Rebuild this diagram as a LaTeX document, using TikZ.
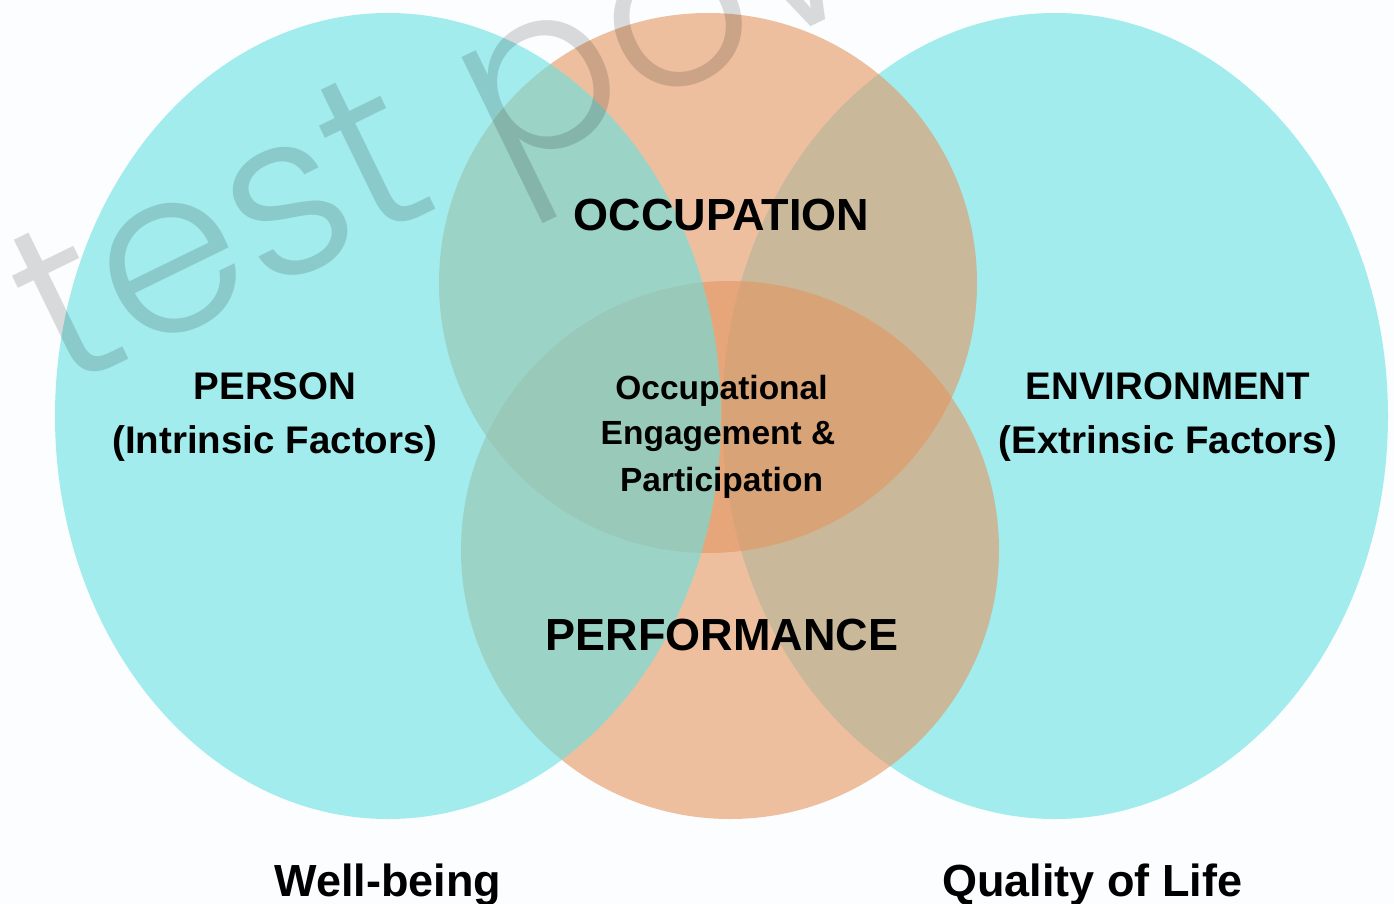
\documentclass[tikz,border=0pt]{standalone}
\usepackage{fontspec}
\setmainfont{Liberation Sans}
\newfontfamily\markfont{Poppins Light}
\definecolor{pagebg}{RGB}{252,253,254}
\definecolor{venncyan}{RGB}{102,225,227}
\definecolor{vennorange}{RGB}{227,150,97}

\begin{document}
\begin{tikzpicture}[x=1pt,y=-1pt,
  cyanset/.style={fill=venncyan, fill opacity=0.6},
  orangeset/.style={fill=vennorange, fill opacity=0.6},
  bigtitle/.style={font=\bfseries\fontsize{45}{54}\selectfont, anchor=base, inner sep=0pt},
  sidelabel/.style={font=\bfseries\fontsize{38.5}{46}\selectfont, anchor=base, inner sep=0pt},
  corelabel/.style={font=\bfseries\fontsize{33.5}{40}\selectfont, anchor=base, inner sep=0pt},
  watermark/.style={font=\markfont\fontsize{230}{230}\selectfont, text=black,
    text opacity=0.14, anchor=base west, inner sep=0pt, rotate=26}]

% page
\useasboundingbox (0,0) rectangle (1394,904);
\fill[pagebg] (0,0) rectangle (1394,904);
\clip (0,0) rectangle (1394,904);

% sets: environment below the two orange sets, person above them
\fill[cyanset] (1055,416) ellipse [x radius=333pt, y radius=403pt];
\fill[orangeset] (708,283) ellipse [x radius=269pt, y radius=270pt];
\fill[orangeset] (730,550) ellipse [x radius=269pt, y radius=269pt];
\fill[cyanset] (388,416) ellipse [x radius=333pt, y radius=403pt];

% watermark
\node[watermark] (mark) at (62,392) {test pow};

% labels
\node[bigtitle] (occupation) at (721.5,230) {OCCUPATION};
\node[bigtitle] (performance) at (722,650) {PERFORMANCE};

\node[sidelabel] (person) at (275,399) {PERSON};
\node[sidelabel] (intrinsic) at (275,453) {(Intrinsic Factors)};
\node[sidelabel] (environment) at (1168,399) {ENVIRONMENT};
\node[sidelabel] (extrinsic) at (1168,453) {(Extrinsic Factors)};

\node[corelabel] (core1) at (721.5,399) {Occupational};
\node[corelabel] (core2) at (718,444) {Engagement \&};
\node[corelabel] (core3) at (721.5,491) {Participation};

\node[bigtitle] (wellbeing) at (388,896) {Well-being};
\node[bigtitle] (quality) at (1092,896) {Quality of Life};
\end{tikzpicture}
\end{document}
